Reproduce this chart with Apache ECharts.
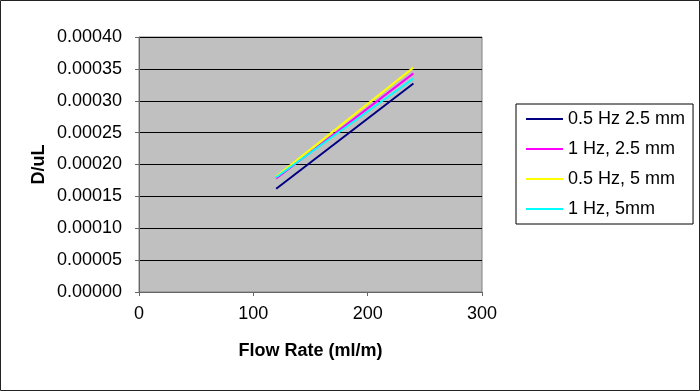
<!DOCTYPE html>
<html>
<head>
<meta charset="utf-8">
<script src="https://cdn.jsdelivr.net/npm/echarts@6/dist/echarts.min.js"></script>
<style>
  html, body { margin: 0; padding: 0; background: #fff; }
  #chart { width: 700px; height: 391px; }
</style>
</head>
<body>
<div id="chart"></div>
<script>
const chartDom = document.getElementById('chart');
const myChart = echarts.init(chartDom);

// data
const flowRate = [120, 240];
const seriesNames = ['0.5 Hz 2.5 mm', '1 Hz, 2.5 mm', '0.5 Hz, 5 mm', '1 Hz, 5mm'];
const s1 = [0.000162, 0.000327];
const s2 = [0.000178, 0.000343];
const s3 = [0.000181, 0.000352];
const s4 = [0.000180, 0.000335];
const colors = ['#000080', '#ff00ff', '#ffff00', '#00ffff'];
const yTicks = [0, 0.0004, 0.00005];
const xTicks = [0, 300, 100];

const font = '"Liberation Sans", Arial, sans-serif';

function pairs(ys) {
    return flowRate.map((x, i) => [x, ys[i]]);
}

const allValues = [s1, s2, s3, s4];

const option = {
    backgroundColor: '#fff',
    animation: false,
    textStyle: { fontFamily: font },
    grid: {
        left: 139,
        right: 218,
        top: 37,
        bottom: 99,
        show: true,
        backgroundColor: '#c0c0c0',
        borderColor: '#808080',
        borderWidth: 1
    },
    legend: {
        orient: 'vertical',
        left: 516,
        top: 104,
        padding: [6, 8, 6, 10],
        itemGap: 12,
        itemWidth: 37,
        itemHeight: 2,
        icon: 'rect',
        borderColor: '#000',
        borderWidth: 1,
        borderRadius: 0,
        backgroundColor: '#fff',
        textStyle: { fontSize: 18, lineHeight: 18, color: '#000', fontFamily: font },
        data: seriesNames
    },
    xAxis: {
        type: 'value',
        min: xTicks[0],
        max: xTicks[1],
        interval: xTicks[2],
        name: 'Flow Rate (ml/m)',
        nameLocation: 'middle',
        nameGap: 50,
        nameTextStyle: { fontSize: 18, fontWeight: 'bold', color: '#000', fontFamily: font },
        axisLine: { lineStyle: { color: '#666', width: 1 } },
        axisTick: { show: true, length: 4, lineStyle: { color: '#666' } },
        axisLabel: { fontSize: 18, color: '#000', margin: 13, fontFamily: font },
        splitLine: { show: false }
    },
    yAxis: {
        type: 'value',
        min: yTicks[0],
        max: yTicks[1],
        interval: yTicks[2],
        name: 'D/uL',
        nameLocation: 'middle',
        nameGap: 91,
        nameRotate: 90,
        nameTextStyle: { fontSize: 18, fontWeight: 'bold', color: '#000', fontFamily: font },
        axisLine: { show: true, lineStyle: { color: '#666', width: 1 } },
        axisTick: { show: true, length: 4, lineStyle: { color: '#666' } },
        axisLabel: {
            fontSize: 18,
            color: '#000',
            margin: 17,
            fontFamily: font,
            formatter: v => v.toFixed(5)
        },
        splitLine: { show: true, lineStyle: { color: '#000', width: 1 } }
    },
    series: seriesNames.map((name, i) => ({
        name: name,
        type: 'line',
        symbol: 'none',
        data: pairs(allValues[i]),
        lineStyle: { color: colors[i], width: 2 },
        itemStyle: { color: colors[i] }
    })),
    graphic: [{
        type: 'rect',
        shape: { x: 0.5, y: 0.5, width: 699, height: 390 },
        style: { fill: 'none', stroke: '#222', lineWidth: 1 },
        silent: true
    }]
};

myChart.setOption(option);
</script>
</body>
</html>
